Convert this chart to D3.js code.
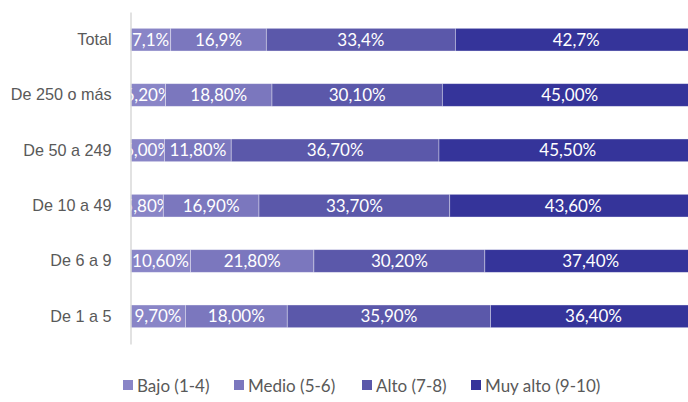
<!DOCTYPE html>
<html>
<head>
	<meta charset="utf-8">
	<title>Valoración por tamaño de empresa</title>
	<style>
		body { margin: 0; background: #fff; }
		svg { display: block; font-family: Lato, "Open Sans", sans-serif; }
		.cat text { font-size: 16.2px; fill: #595959; }
		.lbl { font-size: 17px; fill: #fff; }
		.legend text { font-size: 17px; fill: #595959; }
	</style>
</head>
<body>
<div id="chart"></div>
<script src="https://d3js.org/d3.v7.min.js"></script>
<script>
	// data (top to bottom)
	var categories = ["Total", "De 250 o más", "De 50 a 249", "De 10 a 49", "De 6 a 9", "De 1 a 5"];
	var series = ["Bajo (1-4)", "Medio (5-6)", "Alto (7-8)", "Muy alto (9-10)"];
	var bajo    = [7.1, 6.2, 6.0, 5.8, 10.6, 9.7];
	var medio   = [16.9, 18.8, 11.8, 16.9, 21.8, 18.0];
	var alto    = [33.4, 30.1, 36.7, 33.7, 30.2, 35.9];
	var muyAlto = [42.7, 45.0, 45.5, 43.6, 37.4, 36.4];
	// the Total row uses one decimal in its labels, the others two
	var decimals = [1, 2, 2, 2, 2, 2];
	var colors = ["#8985c7", "#7b77be", "#5b58aa", "#35349a"];

	var W = 688, H = 402;
	var plotLeft = 130.5, plotTop = 12, plotBottom = 344;

	var svg = d3.select("#chart").append("svg")
		.attr("width", W).attr("height", H);

	var x = d3.scaleLinear().domain([0, 100]).range([plotLeft, plotLeft + 566]);
	var y = d3.scaleBand().domain(categories).range([plotTop, plotBottom])
		.paddingInner(0.59).paddingOuter(0.295);

	var values = [bajo, medio, alto, muyAlto];
	var rows = categories.map(function(c, i) {
		var acc = 0;
		return values.map(function(v, s) {
			var d = {cat: c, s: s, x0: acc, x1: acc + v[i], v: v[i], dec: decimals[i]};
			acc += v[i];
			return d;
		});
	});

	svg.append("defs").append("clipPath").attr("id", "plot")
		.append("rect").attr("x", plotLeft).attr("y", 0).attr("width", W - plotLeft).attr("height", H);

	var plot = svg.append("g").attr("clip-path", "url(#plot)");

	var segs = plot.selectAll("g.row").data(rows).enter().append("g").attr("class", "row")
		.selectAll("g").data(function(d) { return d; }).enter().append("g");

	segs.append("rect")
		.attr("x", function(d) { return x(d.x0); })
		.attr("y", function(d) { return y(d.cat); })
		.attr("width", function(d) { return x(d.x1) - x(d.x0); })
		.attr("height", y.bandwidth())
		.attr("fill", function(d) { return colors[d.s]; })
		.attr("stroke", "#fff").attr("stroke-opacity", 0.45).attr("stroke-width", 0.8);

	segs.append("text").attr("class", "lbl")
		.attr("x", function(d) { return (x(d.x0) + x(d.x1)) / 2; })
		.attr("y", function(d) { return y(d.cat) + y.bandwidth() / 2; })
		.attr("dy", "0.36em")
		.attr("text-anchor", "middle")
		.text(function(d) { return d.v.toFixed(d.dec).replace(".", ",") + "%"; });

	// vertical category axis
	var ax = svg.append("g").attr("class", "cat")
		.attr("transform", "translate(" + plotLeft + ",0)")
		.call(d3.axisLeft(y).tickSize(0).tickPadding(19));
	ax.select(".domain").attr("stroke", "#d9d9d9").attr("stroke-width", 1.5);
	ax.selectAll("text").attr("font-family", null).attr("font-size", null).attr("fill", null);

	// legend
	var legX = [123, 234, 362, 471];
	var leg = svg.append("g").attr("class", "legend").selectAll("g").data(series).enter().append("g")
		.attr("transform", function(d, i) { return "translate(" + legX[i] + ",386)"; });
	leg.append("rect").attr("x", 0).attr("y", -6).attr("width", 10).attr("height", 10)
		.attr("fill", function(d, i) { return colors[i]; });
	leg.append("text").attr("x", 14).attr("dy", "0.33em").text(function(d) { return d; });
</script>
</body>
</html>
